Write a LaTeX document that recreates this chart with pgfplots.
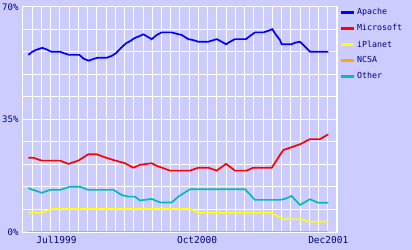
\documentclass[border=0pt]{standalone}
\usepackage{pgfplots}
\pgfplotsset{compat=1.18}
\usepackage{fontspec}
\setmonofont{DejaVu Sans Mono}
\definecolor{bg}{HTML}{CCCCFF}
\definecolor{navy}{HTML}{000080}
\definecolor{apache}{HTML}{0000FF}
\definecolor{msft}{HTML}{FF0000}
\definecolor{iplanet}{HTML}{FFFF00}
\definecolor{ncsa}{HTML}{FFAA00}
\definecolor{other}{HTML}{00BBBB}
\begin{document}
\begin{tikzpicture}
\fill[bg] (-23bp,-18bp) rectangle (389bp,232bp);
\useasboundingbox (-23bp,-18bp) rectangle (389bp,232bp);
\begin{axis}[
  at={(0,0)}, anchor=south west,
  scale only axis, width=314bp, height=225bp,
  xmin=-0.57, xmax=32.93, ymin=0, ymax=70,
  axis line style={white, line width=1bp},
  xtick={3,18,32}, xticklabels={Jul1999,Oct2000,Dec2001},
  minor xtick={0.415,1.40029,...,32.5},
  ytick={0,35,70}, yticklabels={0\%,35\%,70\%},
  minor ytick={7,14,...,63},
  xmajorgrids=false, xminorgrids=true,
  ymajorgrids=true, yminorgrids=true,
  grid style={white, line width=1bp},
  minor grid style={white, line width=1bp},
  major tick length=0pt, minor tick length=0pt,
  xticklabel style={font=\ttfamily\fontsize{9.5bp}{10bp}\selectfont, text=navy, yshift=-1bp},
  yticklabel style={font=\ttfamily\fontsize{9bp}{10bp}\selectfont, text=navy, xshift=-1bp},
  legend style={at={(1,1)}, anchor=north west, xshift=0.5bp, yshift=2.5bp, draw=none, fill=none,
    font=\ttfamily\fontsize{8.3bp}{9bp}\selectfont, text=navy, row sep=4.2bp, inner sep=2bp},
  legend cell align=left,
  legend image code/.code={\draw[#1, line width=2.5bp] (0bp,0bp) -- (13bp,0bp);},
  every axis plot/.append style={line width=1.7bp},
  clip=false,
]
\addplot[apache] coordinates {(0,55.1)(0.43,56.1)(0.96,56.8)(1.49,57.3)(1.96,56.8)(2.42,56.1)(3.38,56.1)(3.81,55.6)(4.37,55.1)(5.44,55.1)(5.87,54.0)(6.40,53.3)(6.93,53.8)(7.36,54.2)(8.36,54.2)(8.90,54.8)(9.35,55.6)(9.86,57.2)(10.42,58.7)(10.92,59.5)(11.31,60.3)(11.73,60.8)(12.27,61.5)(12.69,60.8)(13.16,60.0)(13.70,61.3)(14.23,62.1)(15.30,62.1)(15.65,61.8)(16.36,61.3)(17.07,60.0)(17.60,59.7)(18.13,59.2)(19.20,59.2)(20.10,60.0)(20.63,59.2)(21.09,58.4)(21.52,59.2)(22.05,60.0)(23.22,60.0)(23.65,61.0)(24.18,62.1)(25.07,62.1)(25.60,62.6)(26.03,63.1)(26.31,61.8)(26.85,59.7)(27.03,58.4)(28.10,58.4)(28.45,58.9)(28.98,59.2)(29.51,57.7)(30.05,56.1)(32,56.1)};
\addlegendentry{Apache}
\addplot[msft] coordinates {(0,23.1)(0.53,23.1)(1.43,22.2)(3.38,22.2)(4.27,21.2)(5.33,22.2)(6.40,24.2)(7.29,24.2)(8.00,23.4)(9.07,22.4)(10.31,21.4)(11.20,20.0)(11.91,20.9)(13.16,21.4)(13.69,20.6)(15.11,19.1)(17.25,19.1)(18.13,20.0)(19.20,20.0)(20.10,19.1)(21.09,21.2)(22.05,19.1)(23.29,19.1)(24.0,20.0)(25.97,20.0)(26.51,22.4)(26.85,24.0)(27.20,25.5)(27.91,26.2)(28.98,27.3)(30.05,28.9)(31.12,28.9)(32,30.4)};
\addlegendentry{Microsoft}
\addplot[iplanet] coordinates {(0,6.0)(1.43,6.0)(2.50,7.2)(17.25,7.2)(18.13,6.0)(25.97,6.0)(26.85,4.5)(27.20,4.0)(28.98,4.0)(30.05,3.2)(32,3.2)};
\addlegendentry{iPlanet}
\addplot[ncsa] coordinates {(0,0.2)(8,0.2)(16,0.2)(24,0.2)(32,0.2)};
\addlegendentry{NCSA}
\addplot[other] coordinates {(0,13.6)(0.53,13.1)(1.43,12.2)(2.31,13.1)(3.38,13.1)(4.45,14.1)(5.51,14.1)(6.40,13.1)(9.07,13.1)(9.96,11.5)(10.67,11.0)(11.38,11.0)(11.91,9.8)(13.16,10.3)(14.05,9.2)(15.30,9.2)(16.0,11.0)(17.25,13.3)(23.12,13.3)(24.18,10.0)(26.85,10.0)(27.38,10.3)(28.09,11.2)(28.98,8.4)(30.05,10.2)(30.93,9.1)(32,9.1)};
\addlegendentry{Other}
\end{axis}
\end{tikzpicture}
\end{document}
